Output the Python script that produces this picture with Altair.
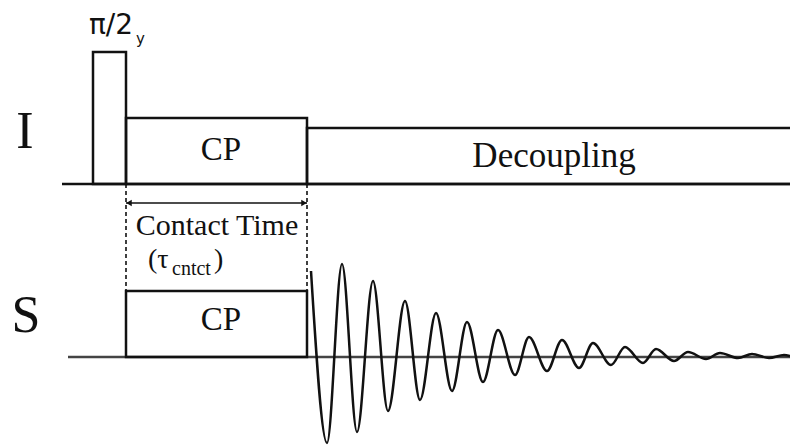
import altair as alt
import pandas as pd

W, H = 790, 445

# ---- sequence geometry (time runs left to right, levels measured downward) ----
i_base = 184          # I channel baseline level
s_base = 357          # S channel baseline level

# pulse blocks: start time, end time, top level, baseline level
blk_t0 = [93, 126, 307, 126]
blk_t1 = [126, 307, 805, 307]
blk_top = [52, 118, 128, 291]
blk_bot = [i_base, i_base, i_base, s_base]

# channel baselines
base_t0 = [62, 68]
base_t1 = [790, 790]
base_lvl = [i_base, s_base]

# contact-time markers
ct_t = [126, 307]
ct_top = [i_base, i_base]
ct_bot = [291, 291]
arrow_lvl = 203

# FID on the S channel: successive extrema (time, level)
fid_t = [311, 327, 342, 357, 373, 388, 405, 420, 436, 452, 467, 483, 498, 515,
         529, 547, 562, 579, 593, 611, 625, 643, 656, 674, 688, 706, 720, 738,
         752, 769, 784, 790]
fid_y = [271, 443, 264, 432, 281, 411, 301, 400, 313, 391, 322, 382, 330, 375,
         337, 371, 340, 368, 343, 365, 347, 363, 349, 361, 352, 359, 353, 358,
         354, 358, 355, 356]

xs = alt.Scale(domain=[0, W], nice=False, zero=False)
ys = alt.Scale(domain=[H, 0], nice=False, zero=False)

def X(f):
    return alt.X(f, type="quantitative", scale=xs, axis=None)

def Y(f):
    return alt.Y(f, type="quantitative", scale=ys, axis=None)

blocks = pd.DataFrame({"t0": blk_t0, "t1": blk_t1, "top": blk_top, "bot": blk_bot})
bases = pd.DataFrame({"t0": base_t0, "t1": base_t1, "lvl": base_lvl,
                      "col": ["#111111", "#444444"]})
ct = pd.DataFrame({"t": ct_t, "top": ct_top, "bot": ct_bot})
arrow = pd.DataFrame({"t0": [ct_t[0]], "t1": [ct_t[1]], "lvl": [arrow_lvl]})
heads = pd.DataFrame({"t": [ct_t[0] + 3, ct_t[1] - 3], "lvl": [arrow_lvl, arrow_lvl],
                      "shape": ["triangle-left", "triangle-right"]})
fid = pd.DataFrame({"t": fid_t, "lvl": fid_y, "k": list(range(len(fid_t)))})

base_layer = alt.Chart(bases).mark_rule(strokeWidth=2.5).encode(
    x=X("t0"), x2="t1", y=Y("lvl"), color=alt.Color("col:N", scale=None))

block_layer = alt.Chart(blocks).mark_rect(
    fillOpacity=0, stroke="#111111", strokeWidth=2.5, clip=True).encode(
    x=X("t0"), x2="t1", y=Y("top"), y2="bot")

dash_layer = alt.Chart(ct).mark_rule(
    stroke="#111111", strokeWidth=1.6, strokeDash=[4, 3]).encode(
    x=X("t"), y=Y("top"), y2="bot")

arrow_layer = alt.Chart(arrow).mark_rule(stroke="#111111", strokeWidth=1.5).encode(
    x=X("t0"), x2="t1", y=Y("lvl"))

head_layer = alt.Chart(heads).mark_point(
    filled=True, color="#111111", size=40, opacity=1).encode(
    x=X("t"), y=Y("lvl"), shape=alt.Shape("shape:N", scale=None))

fid_layer = alt.Chart(fid).mark_line(
    interpolate="monotone", stroke="#111111", strokeWidth=2.5).encode(
    x=X("t"), y=Y("lvl"), order="k:Q")

# ---- text ----
serif = "Liberation Serif"

def label(df, **kw):
    return alt.Chart(pd.DataFrame(df)).mark_text(color="#111111", baseline="alphabetic", **kw).encode(
        x=X("t"), y=Y("lvl"), text="txt:N")

ch_labels = label({"t": [25, 26], "lvl": [148, 332], "txt": ["I", "S"]},
                  font=serif, fontSize=52, align="center")
cp_labels = label({"t": [221, 221], "lvl": [160, 330], "txt": ["CP", "CP"]},
                  font=serif, fontSize=33, align="center")
dec_label = label({"t": [554], "lvl": [167], "txt": ["Decoupling"]},
                  font=serif, fontSize=35, align="center")
ct_label = label({"t": [217], "lvl": [235], "txt": ["Contact Time"]},
                 font=serif, fontSize=30, align="center")
tau_label = label({"t": [148, 214], "lvl": [268, 268], "txt": ["(\u03c4", ")"]},
                  font=serif, fontSize=28, align="left")
tau_sub = label({"t": [172], "lvl": [275], "txt": ["cntct"]},
                font=serif, fontSize=20, align="left")
pulse_label = label({"t": [89], "lvl": [34], "txt": ["\u03c0/2"]},
                    font="DejaVu Sans", fontSize=28, align="left")
pulse_sub = label({"t": [136], "lvl": [44], "txt": ["y"]},
                  font="DejaVu Sans", fontSize=15, align="left")

chart = alt.layer(
    base_layer, block_layer, dash_layer, arrow_layer, head_layer, fid_layer,
    ch_labels, cp_labels, dec_label, ct_label, tau_label, tau_sub,
    pulse_label, pulse_sub,
).properties(
    width=W, height=H, padding=0, autosize=alt.AutoSizeParams(type="none"),
    background="white",
).configure_view(stroke=None)

chart.save("out.html", embed_options={"renderer": "svg", "actions": False})
